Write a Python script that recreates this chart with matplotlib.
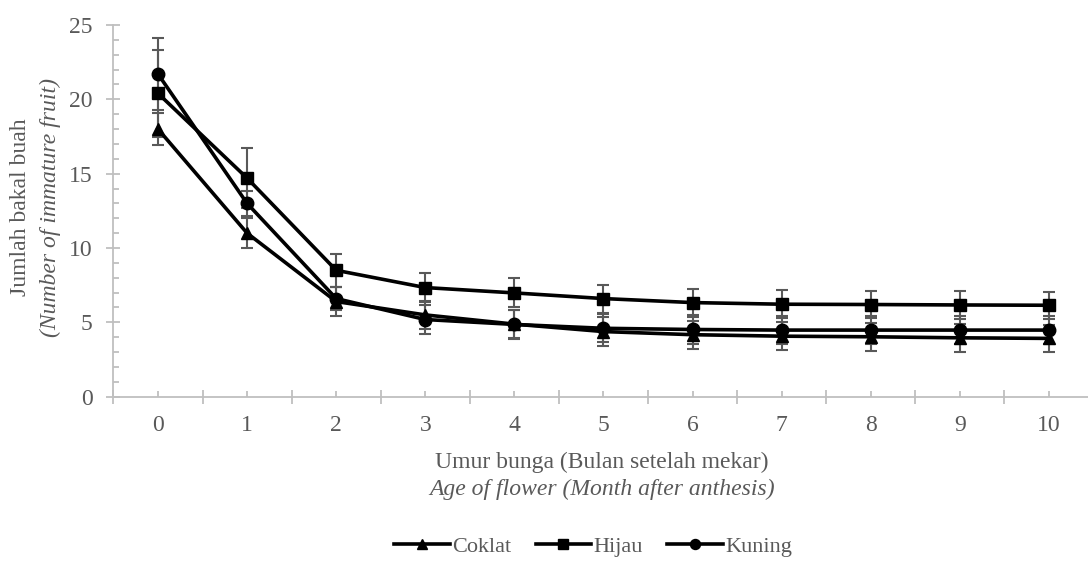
import matplotlib.pyplot as plt
from matplotlib.ticker import MultipleLocator
from matplotlib.lines import Line2D

plt.rcParams['font.family'] = ['Liberation Serif', 'DejaVu Serif']

months = [0, 1, 2, 3, 4, 5, 6, 7, 8, 9, 10]
coklat = [18.0, 11.0, 6.4, 5.5, 4.88, 4.38, 4.17, 4.07, 4.03, 3.96, 3.92]
coklat_err = [1.1, 1.0, 1.0, 0.95, 0.95, 0.95, 0.95, 0.95, 0.93, 0.93, 0.9]
hijau = [20.4, 14.7, 8.5, 7.34, 6.98, 6.6, 6.33, 6.22, 6.2, 6.17, 6.15]
hijau_err = [2.95, 2.0, 1.1, 1.0, 0.97, 0.94, 0.94, 0.95, 0.93, 0.92, 0.9]
kuning = [21.7, 13.0, 6.6, 5.19, 4.86, 4.6, 4.52, 4.48, 4.48, 4.48, 4.48]
kuning_err = [2.4, 0.85, 0.8, 0.95, 1.0, 0.95, 0.95, 0.95, 0.95, 0.95, 0.95]

grey = '#595959'
axis_col = '#bfbfbf'

fig = plt.figure(figsize=(10.88, 5.61), dpi=100)
ax = fig.add_axes([0.1043, 0.2929, 0.9007, 0.6625])

series = [(coklat, coklat_err, '^', 'Coklat', 9),
          (hijau, hijau_err, 's', 'Hijau', 8.5),
          (kuning, kuning_err, 'o', 'Kuning', 9)]
for vals, err, mk, name, ms in series:
    ax.errorbar(months, vals, yerr=err, fmt='none', ecolor=grey,
                elinewidth=1.5, capsize=4.5, capthick=1.5, zorder=2)
    ax.plot(months, vals, color='black', lw=2.6, marker=mk, ms=ms,
            label=name, zorder=3)

ax.set_xlim(-0.5, 10.5)
ax.set_ylim(0, 25)
ax.set_xticks(months)
ax.set_xticks([m - 0.5 for m in months] + [10.5], minor=True)
ax.yaxis.set_major_locator(MultipleLocator(5))
ax.yaxis.set_minor_locator(MultipleLocator(1))

for s in ['top', 'right']:
    ax.spines[s].set_visible(False)
for s in ['left', 'bottom']:
    ax.spines[s].set_color(axis_col)
    ax.spines[s].set_linewidth(1.3)

ax.tick_params(axis='x', which='major', direction='in', length=4,
               color=axis_col, width=1.3, labelsize=17, labelcolor=grey, pad=13)
ax.tick_params(axis='x', which='minor', direction='inout', length=10,
               color=axis_col, width=1.3)
ax.tick_params(axis='y', which='major', direction='inout', length=10,
               color=axis_col, width=1.3, labelsize=17, labelcolor=grey, pad=10)
ax.tick_params(axis='y', which='minor', direction='in', length=4,
               color=axis_col, width=1.3)

fig.text(0.553, 0.176, 'Umur bunga (Bulan setelah mekar)', ha='center',
         va='center', fontsize=17, color=grey)
fig.text(0.553, 0.128, 'Age of flower (Month after anthesis)', ha='center',
         va='center', fontsize=17, color=grey, style='italic')
fig.text(0.019, 0.631, 'Jumlah bakal buah', rotation=90, ha='center',
         va='center', fontsize=17, color=grey)
fig.text(0.046, 0.631, '(Number of immature fruit)', rotation=90,
         ha='center', va='center', fontsize=17, color=grey, style='italic')

handles = [Line2D([], [], color='black', lw=2.6, marker=mk, ms=ms * 0.8)
           for _, _, mk, _, ms in series]
fig.legend(handles, [s[3] for s in series], loc='center',
           bbox_to_anchor=(0.545, 0.025), ncol=3, frameon=False,
           fontsize=16, labelcolor=grey, handlelength=2.5,
           handletextpad=0.1, columnspacing=1.1)

fig.savefig('out.png', dpi=100)
